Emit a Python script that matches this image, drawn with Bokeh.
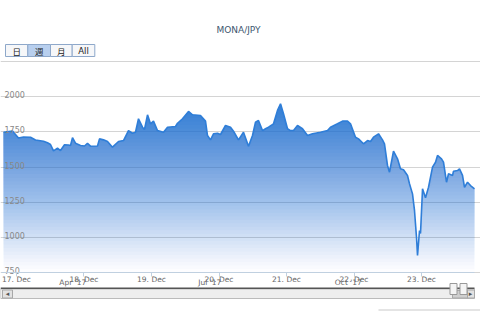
import numpy as np
import pandas as pd
from bokeh.plotting import figure
from bokeh.models import Range1d, FixedTicker, Label, BoxAnnotation, LinearAxis
from bokeh.embed import file_html
from bokeh.resources import INLINE
from bokeh.core.properties import value

# ---------------- data ----------------
title_text = "MONA/JPY"
range_buttons = ["日", "週", "月", "All"]
selected_button = "週"

# hours after 17 Dec 2017 00:00
hours = [-4.62, -1.42, 0.71, 2.49, 4.98, 6.76, 9.6, 11.02, 12.09, 13.16,
         14.58, 15.64, 17.07, 18.49, 19.2, 19.91, 20.98, 22.76, 24.18, 25.24,
         26.31, 28.8, 29.51, 30.93, 32.36, 34.13, 36.27, 38.04, 39.82, 41.24,
         42.31, 43.38, 44.8, 45.51, 46.58, 47.64, 48.71, 50.13, 52.27, 53.69,
         56.53, 57.24, 59.02, 61.16, 62.58, 65.42, 67.2, 67.91, 68.98, 70.04,
         71.47, 72.53, 74.31, 76.09, 77.16, 78.93, 80.71, 82.49, 83.91, 84.98,
         86.04, 87.47, 88.53, 89.6, 91.38, 92.8, 93.87, 94.93, 96.36, 97.42,
         98.49, 99.91, 101.69, 103.47, 105.24, 108.09, 110.58, 111.64, 114.13, 115.91,
         117.69, 118.76, 120.53, 121.6, 123.38, 124.8, 125.87, 126.93, 128.71, 130.13,
         130.84, 131.91, 132.62, 134.04, 135.47, 136.53, 137.6, 139.02, 139.73, 140.8,
         141.51, 142.22, 142.58, 143.29, 143.64, 144.36, 145.42, 146.49, 147.91, 148.98,
         149.69, 151.11, 151.82, 152.89, 153.6, 155.02, 155.38, 156.8, 157.51, 158.58,
         159.29, 160.36, 161.42, 162.84]

prices = [1747, 1756, 1706, 1713, 1712, 1692, 1683, 1672, 1660, 1615,
          1634, 1617, 1658, 1656, 1653, 1708, 1669, 1653, 1649, 1669,
          1648, 1649, 1700, 1693, 1681, 1641, 1681, 1688, 1759, 1740,
          1747, 1843, 1783, 1767, 1871, 1807, 1826, 1759, 1747, 1783,
          1788, 1811, 1843, 1895, 1871, 1866, 1826, 1724, 1693, 1736,
          1740, 1731, 1795, 1783, 1754, 1693, 1747, 1648, 1724, 1818,
          1831, 1759, 1772, 1783, 1807, 1902, 1949, 1878, 1772, 1759,
          1759, 1795, 1772, 1724, 1736, 1747, 1759, 1783, 1807, 1826,
          1826, 1807, 1712, 1700, 1665, 1688, 1681, 1712, 1736, 1693,
          1665, 1511, 1463, 1612, 1558, 1487, 1480, 1440, 1381, 1309,
          1191, 1001, 871, 1049, 1027, 1345, 1281, 1356, 1499, 1534,
          1582, 1558, 1534, 1392, 1452, 1440, 1470, 1475, 1487, 1440,
          1356, 1392, 1368, 1345]

day_labels = ["17. Dec", "18. Dec", "19. Dec", "20. Dec", "21. Dec", "22. Dec", "23. Dec"]
y_ticks = [750, 1000, 1250, 1500, 1750, 2000, 2250]
y_label_values = [750, 1000, 1250, 1500, 1750, 2000]
y_label_texts = ["750", "1000", "1250", "1500", "1750", "2000"]

nav_labels = ["Apr '17", "Jul '17", "Oct '17"]
nav_label_dates = ["2017-04-01", "2017-07-01", "2017-10-01"]
nav_span = ["2017-02-14 00:00", "2017-12-23 18:50"]

# ---------------- layout ----------------
W, H = 480, 311
L, R, T, B = 3, 474, 61, 272          # plot area inside the canvas
YMIN, YMAX = y_ticks[0], y_ticks[-1]
LINE = "#2f7ed8"
FONT = "DejaVu Sans"

x0, x1 = hours[0], hours[-1]


def dx(px):
    return x0 + (px - L) * (x1 - x0) / (R - L)


def dy(py):
    return YMIN + (B - py) * (YMAX - YMIN) / (B - T)


def ms(s):
    return pd.Timestamp(s).value / 1e6


n0, n1 = ms(nav_span[0]), ms(nav_span[1])


def nx(px):
    return n0 + (px - L) * (n1 - n0) / (R - L)


p = figure(width=W, height=H, output_backend="svg", toolbar_location=None,
           x_range=Range1d(dx(0), dx(W)), y_range=Range1d(dy(H), dy(0)),
           x_axis_location=None, y_axis_location=None,
           min_border_left=0, min_border_right=0,
           min_border_top=0, min_border_bottom=0)
p.extra_x_ranges = {"nav": Range1d(nx(0), nx(W))}
p.outline_line_color = None
p.background_fill_color = "white"
p.border_fill_color = "white"

p.xgrid.visible = False
p.ygrid.ticker = FixedTicker(ticks=y_ticks)
p.ygrid.bounds = (dx(1), x1)
p.ygrid.grid_line_color = "#d4d4d4"
p.ygrid.grid_line_width = 1

ticks = [24 * i for i in range(len(day_labels))]
ax = LinearAxis(fixed_location=YMIN, ticker=FixedTicker(ticks=ticks),
                major_label_overrides={t: lab for t, lab in zip(ticks, day_labels)},
                bounds=(dx(1), x1))
ax.axis_line_color = "#c0d0e0"
ax.major_tick_line_color = "#c0d0e0"
ax.major_tick_out = 4
ax.major_tick_in = 0
ax.minor_tick_out = 0
ax.minor_tick_in = 0
ax.major_label_standoff = -2
ax.major_label_text_font = FONT
ax.major_label_text_font_size = "7.5px"
ax.major_label_text_color = "#666666"
p.add_layout(ax, "below")

# ---------------- gradient area ----------------
v = np.array(prices, dtype=float)
vmax = v.max()
K = 48
bk = YMIN + (vmax - YMIN) * np.arange(K) / K
targets = (np.arange(K) + 0.5) / K * 0.97
prev = 0.0
for k in range(K):
    a = 1 - (1 - targets[k]) / (1 - prev)
    prev = targets[k]
    p.varea(x=hours, y1=np.minimum(v, bk[k]), y2=v, fill_color=LINE, fill_alpha=float(a))

p.line(hours, prices, line_color=LINE, line_width=1.6)

p.text(x=[x0] * len(y_label_values), y=y_label_values, text=y_label_texts,
       text_font=value(FONT), text_font_size="8px", text_color="#888888",
       text_baseline="alphabetic", text_align="left", x_offset=1, y_offset=-2)

# ---------------- title & range buttons ----------------
p.add_layout(Label(x=dx(238), y=dy(29), text=title_text, text_align="center",
                   text_baseline="middle", text_font=FONT, text_font_size="9px",
                   text_color="#3E576F"))

edges = [5, 27.3, 50, 71.7, 94.3]
for i, lab in enumerate(range_buttons):
    sel = lab == selected_button
    p.add_layout(BoxAnnotation(left=dx(edges[i]), right=dx(edges[i + 1]),
                               top=dy(44), bottom=dy(56),
                               fill_color="#b8cfee" if sel else "#f6f7f9", fill_alpha=1,
                               line_color="#8ea8ca", line_alpha=1, line_width=1))
    cjk = any(ord(c) > 0x2E80 for c in lab)
    p.add_layout(Label(x=dx((edges[i] + edges[i + 1]) / 2), y=dy(50), text=lab,
                       text_align="center", text_baseline="middle",
                       text_font="Noto Sans CJK JP" if cjk else FONT,
                       text_font_size="8.5px", text_color="#222222"))

# ---------------- navigator / scrollbar ----------------
for lab, d in zip(nav_labels, nav_label_dates):
    p.add_layout(Label(x=ms(d), y=dy(282), x_range_name="nav", text=lab,
                       text_align="center", text_baseline="middle",
                       text_font=FONT, text_font_size="7.5px", text_color="#666666"))


def box(l, r, t, b, fill, line=None, lw=1):
    p.add_layout(BoxAnnotation(left=dx(l), right=dx(r), top=dy(t), bottom=dy(b),
                               fill_color=fill, fill_alpha=1,
                               line_color=line if line else fill,
                               line_alpha=1 if line else 0, line_width=lw))


box(0, 474, 288.5, 298, "#eeeeee", "#bbbbbb")
box(0, 474, 287, 288.5, "#555555")
box(2, 12, 289.5, 297.5, "#e2e2e2", "#a8a8a8")
box(466, 474, 289.5, 297.5, "#e2e2e2", "#a8a8a8")
box(452, 467, 290, 297.5, "#cfcfcf", "#a8a8a8")
box(449.5, 456.5, 283, 294, "#f4f4f4", "#999999")
box(459.5, 466.5, 283, 294, "#f4f4f4", "#999999")
box(378, 480, 308.5, 311, "#e4e4e4")
p.add_layout(Label(x=dx(7), y=dy(293.5), text="◂", text_align="center",
                   text_baseline="middle", text_font=FONT, text_font_size="7px",
                   text_color="#555555"))
p.add_layout(Label(x=dx(470), y=dy(293.5), text="▸", text_align="center",
                   text_baseline="middle", text_font=FONT, text_font_size="7px",
                   text_color="#555555"))

open("out.html", "w").write(file_html(p, INLINE))
